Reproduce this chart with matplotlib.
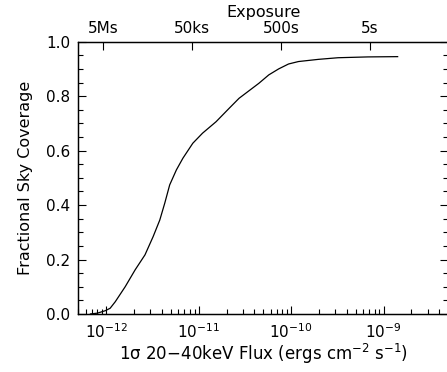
import numpy as np
import matplotlib
matplotlib.use("Agg")
import matplotlib.pyplot as plt
from matplotlib.ticker import FixedLocator, NullFormatter, NullLocator, MultipleLocator

# 1-sigma 20-40 keV flux (erg cm^-2 s^-1) and fraction of sky covered
flux = [6.74e-13, 8.0e-13, 9.75e-13, 1.10e-12, 1.25e-12, 1.60e-12, 2.05e-12,
        2.62e-12, 3.21e-12, 3.79e-12, 4.29e-12, 4.85e-12, 5.73e-12, 6.74e-12,
        8.63e-12, 1.10e-11, 1.54e-11, 2.13e-11, 2.73e-11, 4.47e-11, 5.73e-11,
        7.33e-11, 9.37e-11, 1.20e-10, 1.97e-10, 3.22e-10, 6.76e-10, 1.42e-9]
coverage = [0.0, 0.003, 0.012, 0.021, 0.045, 0.10, 0.162,
            0.217, 0.284, 0.345, 0.407, 0.474, 0.529, 0.572,
            0.627, 0.664, 0.706, 0.755, 0.792, 0.847, 0.878,
            0.900, 0.918, 0.927, 0.935, 0.941, 0.944, 0.945]

# top axis: exposure labels at equivalent flux
exp_flux = [9.23e-13, 8.41e-12, 7.83e-11, 7.05e-10]
exp_labels = ["5Ms", "50ks", "500s", "5s"]

xticks = [1e-12, 1e-11, 1e-10, 1e-9]
yticks = [0.0, 0.2, 0.4, 0.6, 0.8, 1.0]

plt.rcParams["font.family"] = "DejaVu Sans"
plt.rcParams["font.size"] = 11

fig = plt.figure(figsize=(4.47, 3.72), dpi=100)
ax = fig.add_axes([0.1756, 0.156, 0.827, 0.732])

ax.plot(flux, coverage, color="black", lw=0.9)
ax.set_xscale("log")
ax.set_xlim(5e-13, 5e-9)
ax.set_ylim(0.0, 1.0)

ax.xaxis.set_major_locator(FixedLocator(xticks))
minor = [m * 10.0 ** e for e in range(-13, -8) for m in range(2, 10)]
ax.xaxis.set_minor_locator(FixedLocator(minor))
ax.xaxis.set_minor_formatter(NullFormatter())
ax.set_yticks(yticks)
ax.set_yticklabels([f"{v:.1f}" for v in yticks])
ax.yaxis.set_minor_locator(MultipleLocator(0.05))

ax.tick_params(which="both", direction="in", top=False, right=True, width=0.8,
               labelsize=11, pad=6, color="black")
ax.tick_params(which="major", length=6)
ax.tick_params(which="minor", length=3.5)

ax.set_xlabel("1σ 20−40keV Flux (ergs cm$^{-2}$ s$^{-1}$)", fontsize=12, labelpad=1)
ax.set_ylabel("Fractional Sky Coverage", fontsize=11.5, labelpad=9)

top = ax.twiny()
top.set_xscale("log")
top.set_xlim(ax.get_xlim())
top.xaxis.set_major_locator(FixedLocator(exp_flux))
top.set_xticklabels(exp_labels)
top.xaxis.set_minor_locator(NullLocator())
top.tick_params(which="both", direction="in", length=6, width=0.8, labelsize=11, pad=4)
top.set_xlabel("Exposure", fontsize=11.5, labelpad=3)

for a in (ax, top):
    for s in a.spines.values():
        s.set_linewidth(0.9)

fig.savefig("out.png", dpi=100)
